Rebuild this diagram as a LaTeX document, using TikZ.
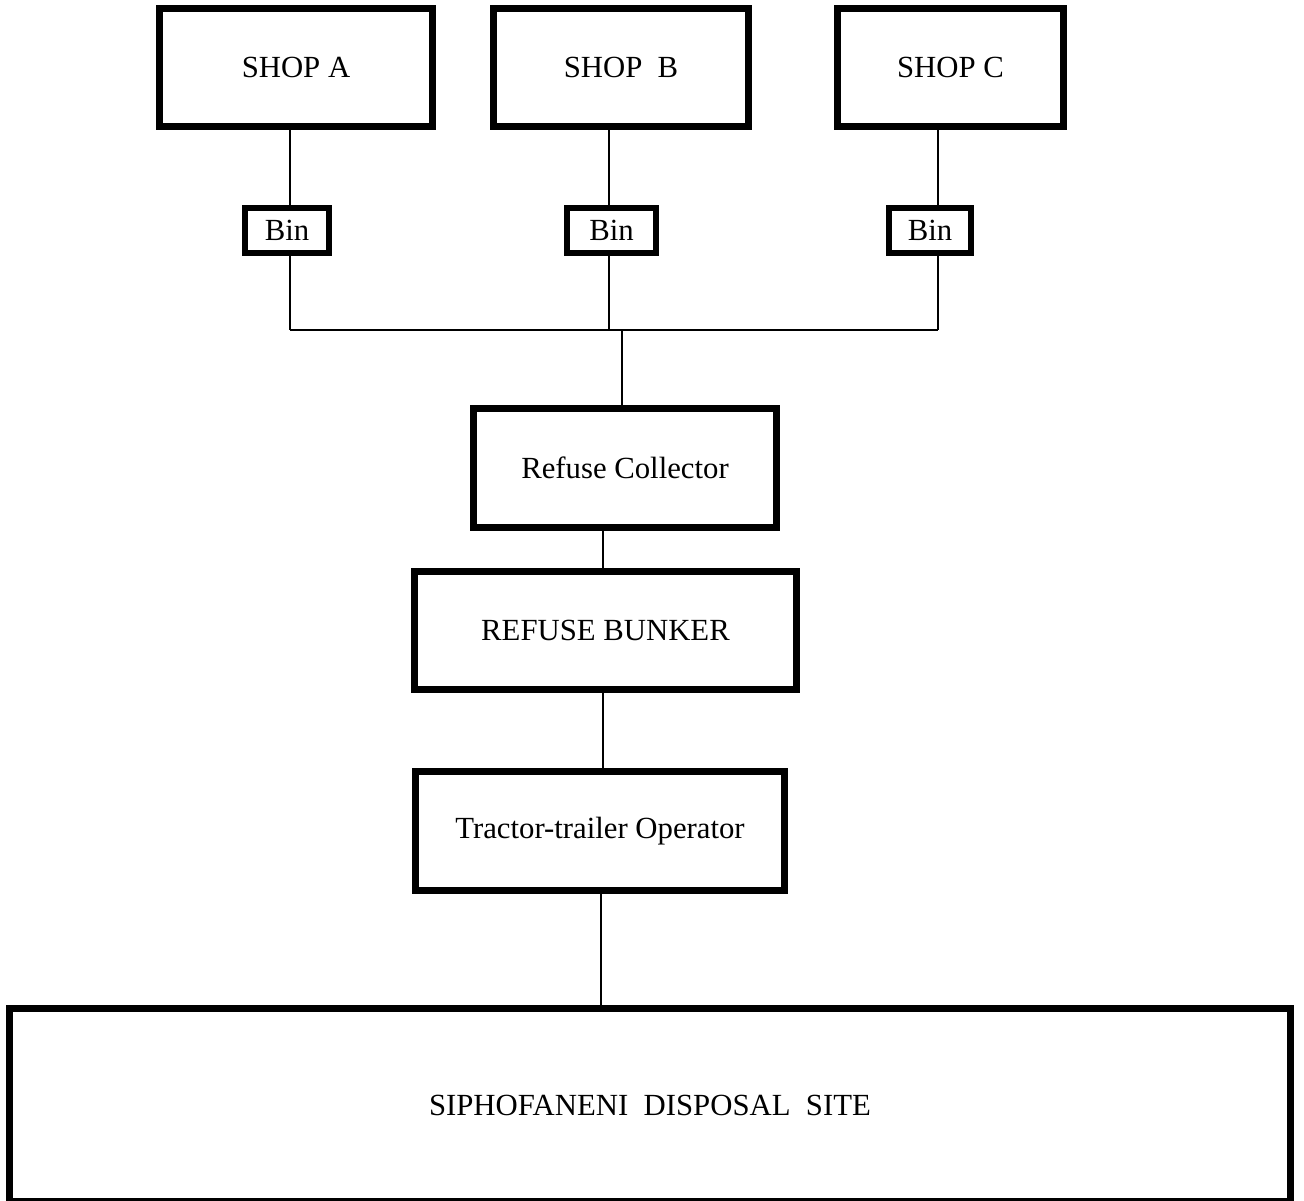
\documentclass[tikz,border=0pt]{standalone}
\usepackage{fontspec}
\setmainfont{Liberation Serif}
\usetikzlibrary{positioning,calc}
\tikzset{box/.style={draw,line width=0.14cm,inner sep=0pt,align=center,font=\fontsize{17.5}{21}\selectfont},
  binbox/.style={box,line width=0.12cm,minimum height=0.9cm},
  link/.style={line width=0.75pt}}

\begin{document}
\begin{tikzpicture}[x=0.02cm,y=-0.02cm]
\useasboundingbox (0,0) rectangle (1304,1200);
% shops and their bins
\node[box,minimum width=5.46cm,minimum height=2.36cm] (shopA) at (296,67.5) {SHOP A};
\node[box,minimum width=5.10cm,minimum height=2.36cm] (shopB) at (621,67.5) {SHOP~~B};
\node[box,minimum width=4.52cm,minimum height=2.36cm] (shopC) at (950.5,67.5) {SHOP C};
\node[binbox,minimum width=1.68cm] (binA) at (287,230.5) {Bin};
\node[binbox,minimum width=1.78cm] (binB) at (611.5,230.5) {Bin};
\node[binbox,minimum width=1.64cm] (binC) at (930,230.5) {Bin};
% chain down to the site
\node[box,minimum width=6.06cm,minimum height=2.38cm] (collector) at (625,468) {Refuse Collector};
\node[box,minimum width=7.64cm,minimum height=2.36cm] (bunker) at (605.5,630.5) {REFUSE BUNKER};
\node[box,minimum width=7.38cm,minimum height=2.38cm] (tractor) at (600,831) {Tractor-trailer Operator};
\node[box,minimum width=25.62cm,minimum height=3.87cm] (site) at (650,1105) {SIPHOFANENI~~DISPOSAL~~SITE};
% junctions
\coordinate (jA) at (290,330);
\coordinate (jB) at (609,330);
\coordinate (jC) at (938,330);
\coordinate (jM) at (622,330);
\draw[link] (shopA.south -| jA) -- (binA.north -| jA) (binA.south -| jA) -- (jA);
\draw[link] (shopB.south -| jB) -- (binB.north -| jB) (binB.south -| jB) -- (jB);
\draw[link] (shopC.south -| jC) -- (binC.north -| jC) (binC.south -| jC) -- (jC);
\draw[link] (jA) -- (jC);
\draw[link] (jM) -- (collector.north -| jM);
\draw[link] ($(collector.south)+(-22,0)$) -- ($(bunker.north)+(-2.5,0)$);
\draw[link] ($(bunker.south)+(-2.5,0)$) -- ($(tractor.north)+(3,0)$);
\draw[link] ($(tractor.south)+(1,0)$) -- ($(site.north)+(-49,0)$);
\end{tikzpicture}
\end{document}
